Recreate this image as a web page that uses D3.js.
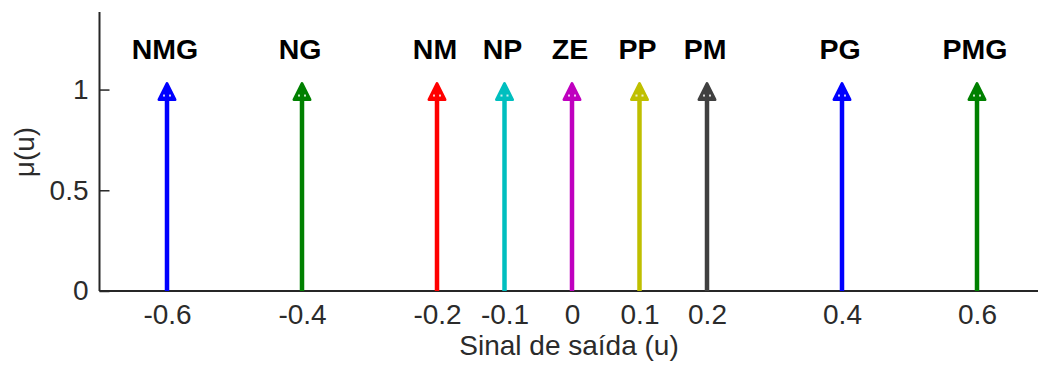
<!DOCTYPE html>
<html>
<head>
<meta charset="utf-8">
<script src="https://cdn.jsdelivr.net/npm/d3@7"></script>
<style>
  body { margin: 0; background: #fff; }
  svg { display: block; }
  text { font-family: "Liberation Sans", Arial, sans-serif; }
</style>
</head>
<body>
<svg id="chart" width="1038" height="367"></svg>
<script>
// singleton output sets
var names = ['NMG', 'NG', 'NM', 'NP', 'ZE', 'PP', 'PM', 'PG', 'PMG'];
var centers = [-0.6, -0.4, -0.2, -0.1, 0, 0.1, 0.2, 0.4, 0.6];
var heights = [1, 1, 1, 1, 1, 1, 1, 1, 1];
var colors = ['#0000ff', '#008000', '#ff0000', '#00bfbf', '#bf00bf', '#bfbf00', '#404040', '#0000ff', '#008000'];
var xTicks = [-0.6, -0.4, -0.2, -0.1, 0, 0.1, 0.2, 0.4, 0.6];
var yTicks = [0, 0.5, 1];

var svg = d3.select('#chart');

var x = d3.scaleLinear().domain([-0.7, 0.7]).range([99.5, 1044.5]);
var y = d3.scaleLinear().domain([0, 1.385]).range([291, 12]);

// axes (ticks point inward like matlab)
var xAxis = d3.axisBottom(x).tickValues(xTicks).tickSize(-10).tickPadding(13)
  .tickFormat(function(d) { return d === 0 ? '0' : d3.format('.1f')(d).replace('−', '-'); });
var yAxis = d3.axisLeft(y).tickValues(yTicks).tickSize(-10).tickPadding(11)
  .tickFormat(function(d) { return d === 0 ? '0' : (d === 1 ? '1' : '0.5'); });

var gx = svg.append('g').attr('transform', 'translate(0,291)').call(xAxis);
var gy = svg.append('g').attr('transform', 'translate(99.5,0)').call(yAxis);

[gx, gy].forEach(function(g) {
  g.select('.domain').attr('stroke', '#262626').attr('stroke-width', 2);
  g.selectAll('.tick line').attr('stroke', '#262626').attr('stroke-width', 1.5);
  g.selectAll('.tick text').attr('fill', '#2b2b2b').style('font-size', '28px')
    .style('font-family', '"Liberation Sans", Arial, sans-serif');
});
// drop the outer tick stubs at domain ends
gx.select('.domain').attr('d', 'M' + x(-0.7) + ',0H' + x(0.7));
gy.select('.domain').attr('d', 'M0,' + y(0) + 'V' + y(1.385));

// stems
svg.selectAll('.stem')
  .data(centers)
  .enter().append('line')
  .attr('class', 'stem')
  .attr('x1', function(d) { return x(d); })
  .attr('x2', function(d) { return x(d); })
  .attr('y1', y(0))
  .attr('y2', function(d, i) { return y(heights[i]); })
  .attr('stroke', function(d, i) { return colors[i]; })
  .attr('stroke-width', 4.5);

// arrow heads
svg.selectAll('.head')
  .data(centers)
  .enter().append('path')
  .attr('class', 'head')
  .attr('d', function(d, i) {
    var cx = x(d), cy = y(heights[i]);
    return 'M' + cx + ',' + (cy - 6) + 'L' + (cx + 8) + ',' + (cy + 10) + 'L' + (cx - 8) + ',' + (cy + 10) + 'Z';
  })
  .attr('fill', function(d, i) { return colors[i]; })
  .attr('stroke', function(d, i) { return colors[i]; })
  .attr('stroke-width', 3)
  .attr('stroke-linejoin', 'round');

// little white specks inside the markers
centers.forEach(function(d, i) {
  [-3, 3].forEach(function(off) {
    svg.append('rect')
      .attr('x', x(d) + off - 1)
      .attr('y', y(heights[i]) + 5)
      .attr('width', 2).attr('height', 2)
      .attr('fill', '#fff').attr('opacity', 0.8);
  });
});

// set names
svg.selectAll('.name')
  .data(names)
  .enter().append('text')
  .attr('class', 'name')
  .attr('x', function(d, i) { return x(centers[i]) - 2; })
  .attr('y', y(1.2))
  .attr('dy', '0.35em')
  .attr('text-anchor', 'middle')
  .style('font-size', '28.5px')
  .style('font-weight', 'bold')
  .attr('fill', '#000')
  .text(function(d) { return d; });

// axis labels
svg.append('text')
  .attr('x', x(0) - 3)
  .attr('y', 355)
  .attr('text-anchor', 'middle')
  .style('font-size', '28px')
  .attr('fill', '#2b2b2b')
  .text('Sinal de saída (u)');

svg.append('text')
  .attr('transform', 'translate(34,' + y(0.69) + ') rotate(-90)')
  .attr('text-anchor', 'middle')
  .style('font-size', '28px')
  .attr('fill', '#2b2b2b')
  .text('μ(u)');
</script>
</body>
</html>
